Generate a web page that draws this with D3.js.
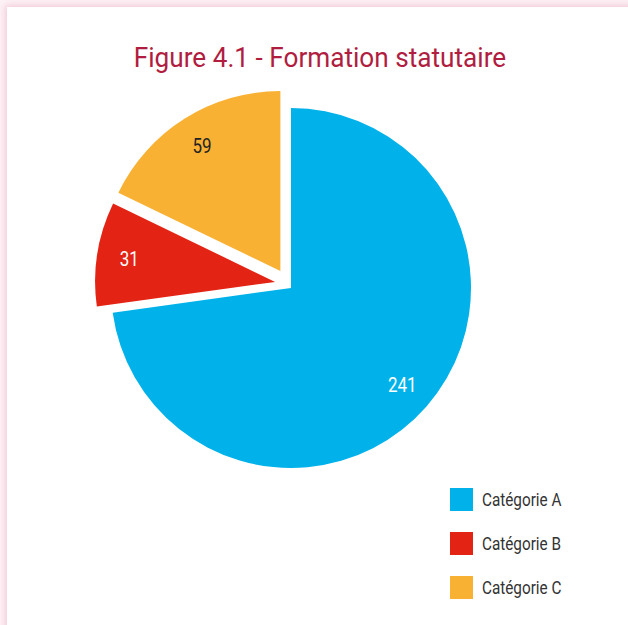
<!DOCTYPE html>
<html>
<head>
<meta charset="utf-8">
<script src="https://cdn.jsdelivr.net/npm/d3@7"></script>
<style>
  html, body { margin: 0; padding: 0; background: #fdf3f6; }
  body { width: 628px; height: 625px; overflow: hidden; position: relative; }
  #card {
    position: absolute; left: 7px; top: 7px; width: 660px; height: 660px;
    background: #fff;
    box-shadow: 0 0 7px 2px rgba(236, 170, 190, 0.55);
  }
  svg { position: absolute; left: 0; top: 0; }
</style>
</head>
<body>
<div id="card"></div>
<svg id="chart" width="628" height="625"></svg>
<script>
// Data
const categories = ["Catégorie A", "Catégorie B", "Catégorie C"];
const values = [241, 31, 59];
const colors = ["#00b2e9", "#e32415", "#f8b133"];
const labelColors = ["#ffffff", "#ffffff", "#222222"];
// Pulled-out slices: distance and a small tilt of the pull direction (degrees)
const explode = [0, 17, 20];
const explodeTilt = [0, 12, 0];

const FONT = "Roboto, 'Noto Sans', sans-serif";
const NARROW = 0.85; // horizontal squeeze for the narrow typeface look

const svg = d3.select("#chart");

// Title
svg.append("g")
  .attr("transform", "translate(320,67) scale(0.97,1)")
  .append("text")
  .attr("text-anchor", "middle")
  .attr("font-family", FONT)
  .attr("font-size", 27)
  .attr("fill", "#b01d3f")
  .text("Figure 4.1 - Formation statutaire");

// Pie
const cx = 291, cy = 288, r = 180;
const pie = d3.pie().sort(null).value(d => d.v);
const arcs = pie(values.map((v, i) => ({ v, i })));
const arc = d3.arc().innerRadius(0).outerRadius(r);
const labelArc = d3.arc().innerRadius(r * 0.82).outerRadius(r * 0.82);

const g = svg.append("g").attr("transform", `translate(${cx},${cy})`);

const slice = g.selectAll("g.slice")
  .data(arcs)
  .join("g")
  .attr("class", "slice")
  .attr("transform", d => {
    const i = d.data.i;
    const dir = (d.startAngle + d.endAngle) / 2 + explodeTilt[i] * Math.PI / 180;
    const e = explode[i];
    return `translate(${Math.sin(dir) * e},${-Math.cos(dir) * e})`;
  });

slice.append("path")
  .attr("d", arc)
  .attr("fill", d => colors[d.data.i]);

slice.append("g")
  .attr("transform", d => `translate(${labelArc.centroid(d)}) scale(${NARROW},1)`)
  .append("text")
  .attr("text-anchor", "middle")
  .attr("dy", "0.36em")
  .attr("font-family", FONT)
  .attr("font-size", 20)
  .attr("fill", d => labelColors[d.data.i])
  .text(d => d.data.v);

// Legend
const legend = svg.append("g").attr("transform", "translate(450,488)");
const item = legend.selectAll("g")
  .data(categories)
  .join("g")
  .attr("transform", (d, i) => `translate(0,${i * 44})`);

item.append("rect")
  .attr("width", 23)
  .attr("height", 23)
  .attr("fill", (d, i) => colors[i]);

item.append("g")
  .attr("transform", `translate(32,18) scale(${NARROW},1)`)
  .append("text")
  .attr("font-family", FONT)
  .attr("font-size", 18)
  .attr("fill", "#333")
  .text(d => d);
</script>
</body>
</html>
